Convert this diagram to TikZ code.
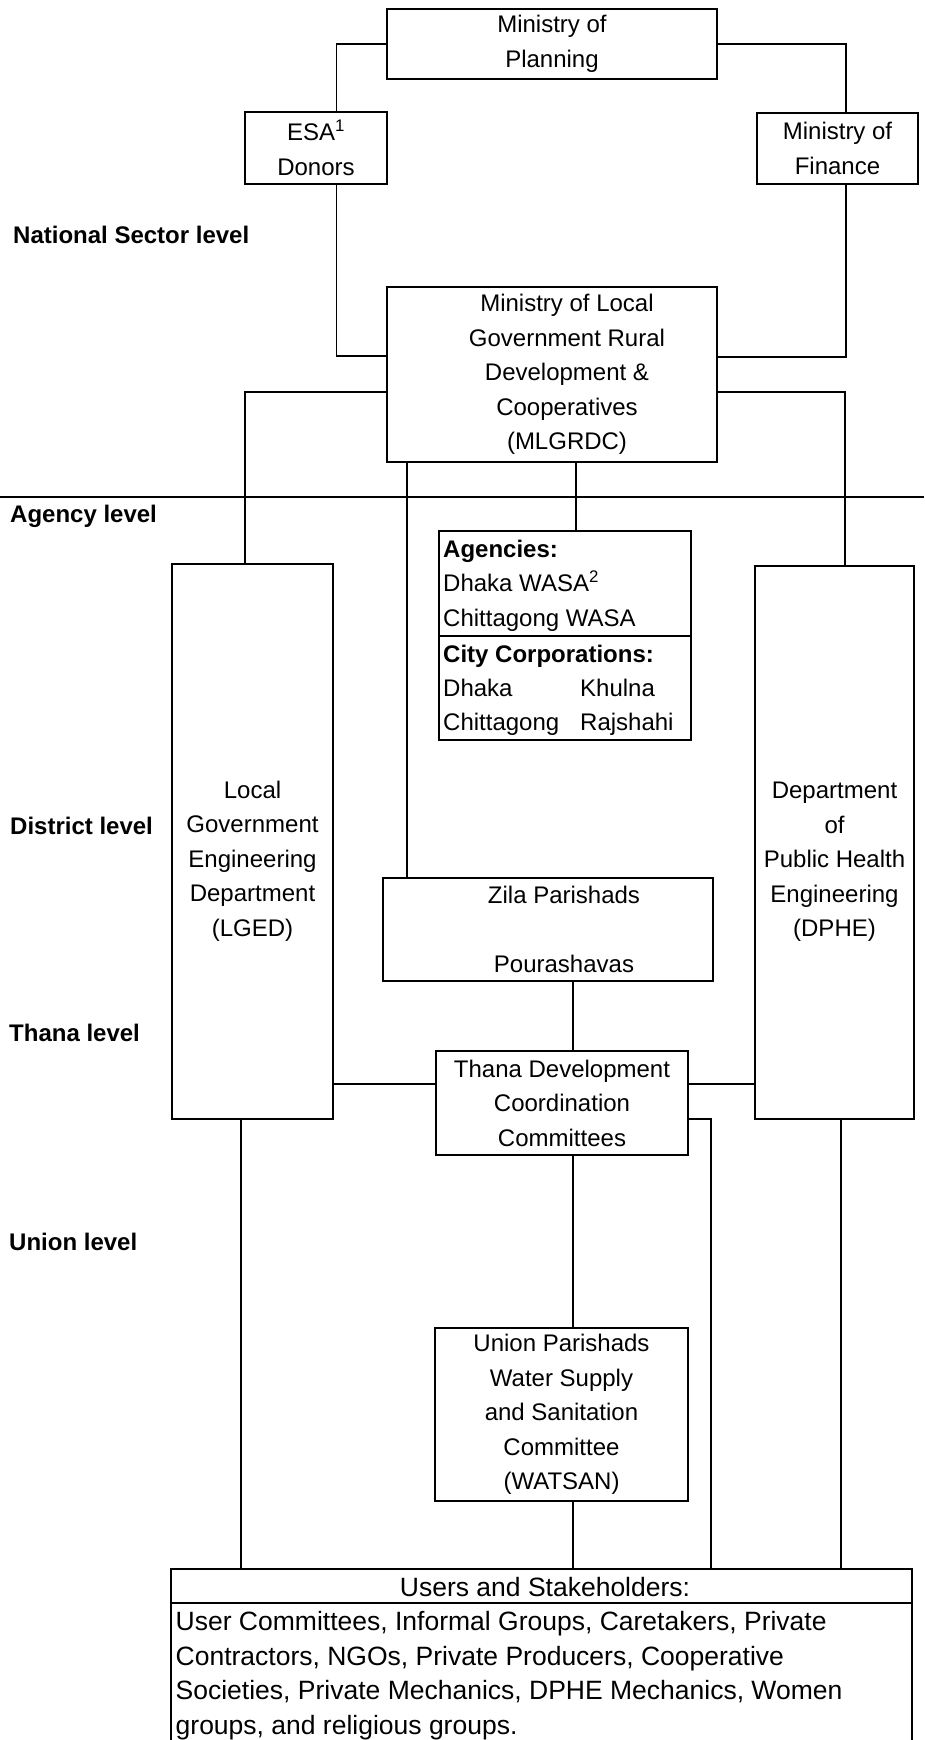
\documentclass[tikz,border=0pt]{standalone}
\usepackage{fontspec}
\setmainfont{Liberation Sans}
\begin{document}
\begin{tikzpicture}[x=1pt,y=-1pt,
  box/.style={draw, line width=2.6pt, inner sep=0pt, align=center, font=\fontsize{24}{34.5}\selectfont},
  lab/.style={align=center, inner sep=0pt, font=\fontsize{24}{34.5}\selectfont},
  conn/.style={line width=1.9pt},
  lvl/.style={anchor=base west, inner sep=0pt, font=\fontsize{24}{28}\selectfont\bfseries},
  txt/.style={anchor=base west, inner sep=0pt, font=\fontsize{24}{28}\selectfont},
  utxt/.style={anchor=base west, inner sep=0pt, font=\fontsize{26.5}{30}\selectfont}]
\useasboundingbox (0,0) rectangle (924,1740);
\clip (0,0) rectangle (924,1740);
\fill[white] (0,0) rectangle (924,1740);

% level labels
\node[lvl] (lnat) at (13,243.5) {National Sector level};
\node[lvl] (lag) at (10,522) {Agency level};
\node[lvl] (ldis) at (10,834.5) {District level};
\node[lvl] (lth) at (9,1041.5) {Thana level};
\node[lvl] (lun) at (9,1250.5) {Union level};

% separator rule
\coordinate (rl) at (0,497);
\coordinate (rr) at (924,497);
\draw[line width=1.6pt] (rl) -- (rr);

% boxes
\node[box, minimum width=330pt, minimum height=70pt] (plan) at (552,44) {Ministry of\\Planning};
\node[box, minimum width=142pt, minimum height=72pt] (esa) at (316,148) {ESA\textsuperscript{1}\\Donors};
\node[box, minimum width=161pt, minimum height=71pt] (fin) at (837.5,148.5) {Ministry of\\Finance};
\node[box, minimum width=330pt, minimum height=175pt,
  label={[lab, name=mlgt, xshift=15pt]center:{Ministry of Local\\Government Rural\\Development \&\\Cooperatives\\(MLGRDC)}}] (mlg) at (552,374.5) {};
\node[box, minimum width=252pt, minimum height=209pt] (ag) at (565,635.5) {};
\node[box, minimum width=161pt, minimum height=555pt,
  label={[lab, name=lgedt, yshift=-19.5pt]center:{Local\\Government\\Engineering\\Department\\(LGED)}}] (lged) at (252.5,841.5) {};
\node[box, minimum width=159pt, minimum height=553pt,
  label={[lab, name=dphet, yshift=-19.5pt]center:{Department\\of\\Public Health\\Engineering\\(DPHE)}}] (dphe) at (834.5,842.5) {};
\node[box, minimum width=330pt, minimum height=103pt,
  label={[lab, name=zilat, xshift=16pt]center:{Zila Parishads\\[34.5pt]Pourashavas}}] (zila) at (548,929.5) {};
\node[box, minimum width=252pt, minimum height=104pt] (thana) at (562,1103) {Thana Development\\Coordination\\Committees};
\node[box, minimum width=253pt, minimum height=173pt] (union) at (561.5,1414.5) {Union Parishads\\Water Supply\\and Sanitation\\Committee\\(WATSAN)};
\node[box, minimum width=741pt, minimum height=185pt] (users) at (541.5,1661.5) {};

% agencies contents
\draw[line width=2.6pt] (ag.west |- 0,636) -- (ag.east |- 0,636);
\node[txt, font=\fontsize{24}{28}\selectfont\bfseries] (a1) at (443,557) {Agencies:};
\node[txt] (a2) at (443,591.5) {Dhaka WASA\textsuperscript{2}};
\node[txt] (a3) at (443,626) {Chittagong WASA};
\node[txt, font=\fontsize{24}{28}\selectfont\bfseries] (a4) at (443,662) {City Corporations:};
\node[txt] (a5) at (443,696) {Dhaka};
\node[txt] (a6) at (580,696) {Khulna};
\node[txt] (a7) at (443,730.5) {Chittagong};
\node[txt] (a8) at (580,730.5) {Rajshahi};

% users contents
\draw[line width=2.6pt] (users.west |- 0,1603) -- (users.east |- 0,1603);
\node[utxt, anchor=base] (uh) at (545,1596) {Users and Stakeholders:};
\node[utxt] (u1) at (175.5,1630) {User Committees, Informal Groups, Caretakers, Private};
\node[utxt] (u2) at (175.5,1665) {Contractors, NGOs, Private Producers, Cooperative};
\node[utxt] (u3) at (175.5,1699) {Societies, Private Mechanics, DPHE Mechanics, Women};
\node[utxt] (u4) at (175.5,1734) {groups, and religious groups.};

% connectors
\draw[conn] (plan.west) -| (esa.north -| 336.5,0);
\draw[conn] (plan.east) -| (fin.north -| 846,0);
\draw[conn] (esa.south -| 336.5,0) |- (mlg.west |- 0,356);
\draw[conn] (fin.south -| 846,0) |- (mlg.east |- 0,357);
\draw[conn] (mlg.west |- 0,392) -| (lged.north -| 245,0);
\draw[conn] (mlg.east |- 0,392) -| (dphe.north -| 845,0);
\draw[conn] (mlg.south -| 407,0) -- (zila.north -| 407,0);
\draw[conn] (mlg.south -| 576,0) -- (ag.north -| 576,0);
\draw[conn] (zila.south -| 573,0) -- (thana.north -| 573,0);
\draw[conn] (lged.east |- 0,1084) -- (thana.west |- 0,1084);
\draw[conn] (thana.east |- 0,1084) -- (dphe.west |- 0,1084);
\draw[conn] (thana.east |- 0,1119) -| (users.north -| 711,0);
\draw[conn] (lged.south -| 241,0) -- (users.north -| 241,0);
\draw[conn] (dphe.south -| 841,0) -- (users.north -| 841,0);
\draw[conn] (thana.south -| 573,0) -- (union.north -| 573,0);
\draw[conn] (union.south -| 573,0) -- (users.north -| 573,0);
\end{tikzpicture}
\end{document}
